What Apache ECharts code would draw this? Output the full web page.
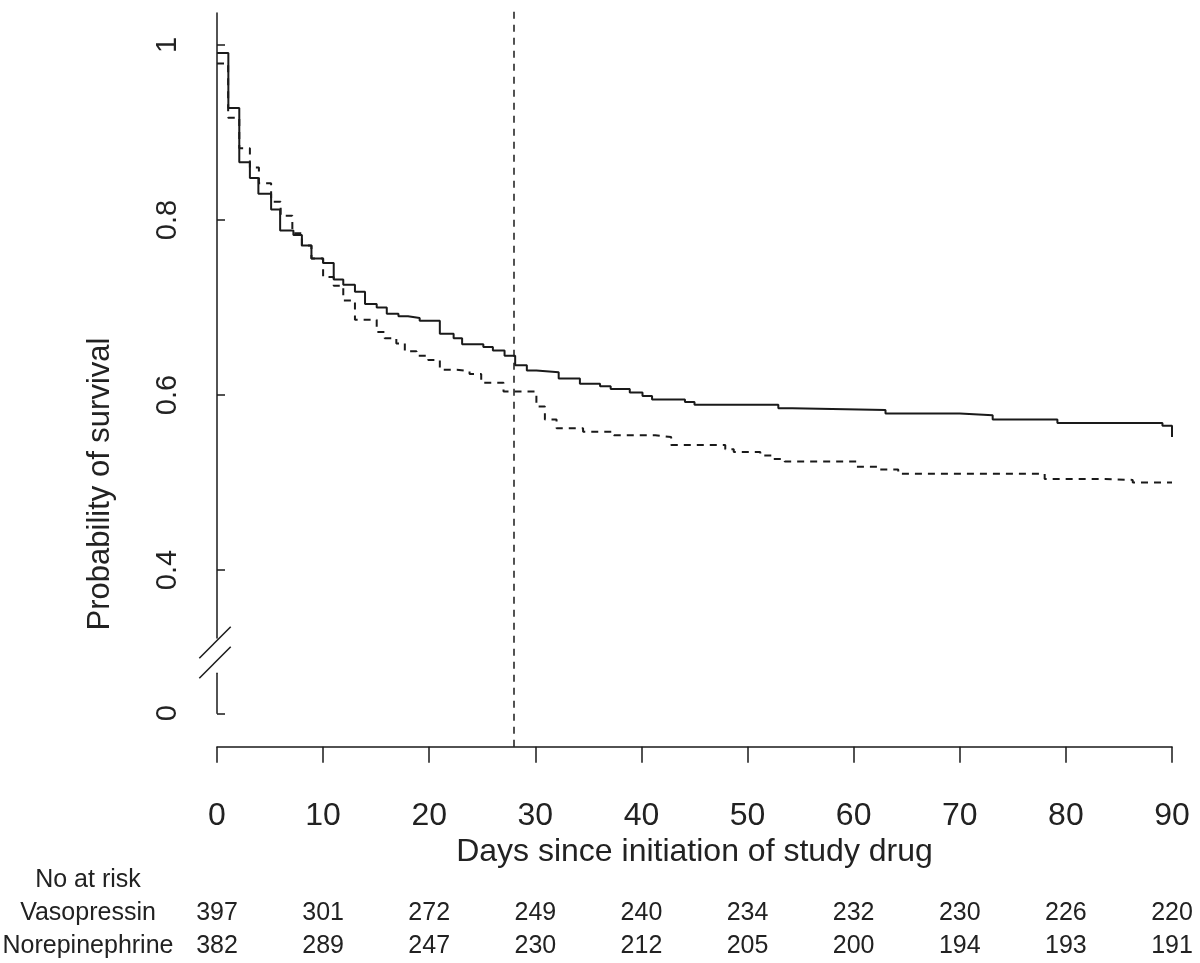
<!DOCTYPE html>
<html>
<head>
<meta charset="utf-8">
<script src="https://cdn.jsdelivr.net/npm/echarts@6/dist/echarts.min.js"></script>
<style>
html,body{margin:0;padding:0;background:#fff;}
#chart{width:1200px;height:963px;}
</style>
</head>
<body>
<div id="chart"></div>
<script>
// ---- data ----
const dayTicks = [0, 10, 20, 30, 40, 50, 60, 70, 80, 90];
const atRiskVaso = [397, 301, 272, 249, 240, 234, 232, 230, 226, 220];
const atRiskNore = [382, 289, 247, 230, 212, 205, 200, 194, 193, 191];
const yTickValues = [0.4, 0.6, 0.8, 1];
const yLowTickValues = [0];
const refDay = 28;

const vasoT = [0,1.07,2.1,3.1,3.9,5.1,5.95,7.2,8.0,8.9,10.0,11.0,11.9,13.0,13.95,15.05,16.0,17.1,18.0,19.1,21.0,22.3,23.1,25.1,26.0,27.1,28.1,29.2,30.1,32.2,34.2,36.1,37.1,38.9,40.1,41.0,44.1,45.0,52.9,54.2,63.0,70.0,73.1,79.2,89.1,90];
const vasoS = [0.991,0.928,0.866,0.848,0.830,0.812,0.788,0.783,0.771,0.756,0.751,0.732,0.726,0.718,0.704,0.700,0.693,0.690,0.688,0.685,0.670,0.665,0.658,0.655,0.651,0.645,0.634,0.628,0.626,0.619,0.613,0.610,0.607,0.603,0.599,0.595,0.592,0.589,0.585,0.583,0.579,0.577,0.572,0.568,0.565,0.552];

const noreT = [0,1.05,2.1,3.1,3.95,5.1,6.0,7.1,8.0,8.9,10.0,11.0,11.9,13.0,15.05,15.8,16.9,17.7,18.8,19.9,21.0,22.6,23.8,24.9,27.0,30.1,30.9,32.0,34.5,37.4,41.3,42.8,47.9,48.7,51.2,52.4,53.5,60.3,62.2,64.2,78.0,83.7,86.3,90];
const noreS = [0.979,0.917,0.882,0.860,0.842,0.821,0.805,0.785,0.771,0.756,0.735,0.725,0.708,0.686,0.672,0.665,0.659,0.650,0.645,0.640,0.629,0.627,0.624,0.614,0.604,0.587,0.572,0.562,0.558,0.554,0.552,0.543,0.538,0.535,0.531,0.527,0.524,0.518,0.515,0.510,0.504,0.503,0.500,0.500];

// ---- layout constants ----
const FONT = "'Liberation Sans', Arial, sans-serif";
const INK = '#1a1a1a';
const TXT = '#222';
const yUpperMin = 0.3223, yUpperMax = 1.0366;
const yLowerMin = 0, yLowerMax = 0.0457;

const chart = echarts.init(document.getElementById('chart'), null, {renderer: 'canvas'});

const zip = (a, b) => a.map((v, i) => [v, b[i]]);

const option = {
  animation: false,
  backgroundColor: '#fff',
  grid: [
    {left: 217, right: 28, top: 13, height: 625},
    {left: 217, right: 28, top: 673.3, height: 40},
    {left: 217, right: 28, top: 10, height: 736.7}
  ],
  xAxis: [
    {gridIndex: 0, type: 'value', min: 0, max: 90, show: false},
    {gridIndex: 1, type: 'value', min: 0, max: 90, interval: 10, position: 'bottom', offset: 33.4,
      axisLine: {show: true, onZero: false, lineStyle: {color: INK, width: 1.5}},
      axisTick: {show: true, length: 16, lineStyle: {color: INK, width: 1.5}},
      splitLine: {show: false},
      axisLabel: {show: true, margin: 53, fontSize: 32, lineHeight: 32, color: TXT, fontFamily: FONT,
        formatter: v => String(dayTicks[Math.round(v / 10)])},
      name: 'Days since initiation of study drug', nameLocation: 'middle', nameGap: 89,
      nameTextStyle: {fontSize: 32, lineHeight: 32, color: TXT, fontFamily: FONT}
    },
    {gridIndex: 1, type: 'value', min: 0, max: 90, interval: 10, position: 'bottom', offset: 0,
      axisLine: {show: false, onZero: false}, axisTick: {show: false}, splitLine: {show: false},
      axisLabel: {show: true, margin: 187, fontSize: 25, lineHeight: 25, color: TXT, fontFamily: FONT,
        formatter: v => String(atRiskVaso[Math.round(v / 10)])}
    },
    {gridIndex: 1, type: 'value', min: 0, max: 90, interval: 10, position: 'bottom', offset: 0,
      axisLine: {show: false, onZero: false}, axisTick: {show: false}, splitLine: {show: false},
      axisLabel: {show: true, margin: 220, fontSize: 25, lineHeight: 25, color: TXT, fontFamily: FONT,
        formatter: v => String(atRiskNore[Math.round(v / 10)])}
    },
    {gridIndex: 2, type: 'value', min: 0, max: 90, show: false}
  ],
  yAxis: [
    {gridIndex: 0, type: 'value', min: yUpperMin, max: yUpperMax,
      axisLine: {show: true, onZero: false, lineStyle: {color: INK, width: 1.5}},
      axisTick: {show: true, inside: true, length: 8, customValues: yTickValues, lineStyle: {color: INK, width: 1.5}},
      splitLine: {show: false},
      axisLabel: {show: true, rotate: 90, margin: 35, fontSize: 29, lineHeight: 29, color: TXT, fontFamily: FONT,
        customValues: yTickValues, formatter: v => String(+v.toFixed(1))}
    },
    {gridIndex: 1, type: 'value', min: yLowerMin, max: yLowerMax,
      axisLine: {show: true, onZero: false, lineStyle: {color: INK, width: 1.5}},
      axisTick: {show: true, inside: true, length: 8, customValues: yLowTickValues, lineStyle: {color: INK, width: 1.5}},
      splitLine: {show: false},
      axisLabel: {show: true, rotate: 90, margin: 35, fontSize: 29, lineHeight: 29, color: TXT, fontFamily: FONT,
        customValues: yLowTickValues, formatter: v => String(+v.toFixed(1))}
    },
    {gridIndex: 2, type: 'value', min: 0, max: 1, show: false}
  ],
  series: [
    {name: 'Vasopressin', type: 'line', xAxisIndex: 0, yAxisIndex: 0, step: 'end', symbol: 'none',
      lineStyle: {color: INK, width: 2}, data: zip(vasoT, vasoS), z: 3},
    {name: 'Norepinephrine', type: 'line', xAxisIndex: 0, yAxisIndex: 0, step: 'end', symbol: 'none',
      lineStyle: {color: INK, width: 2, type: [7, 6]}, data: zip(noreT, noreS), z: 2},
    {name: 'ref', type: 'line', xAxisIndex: 4, yAxisIndex: 2, data: [], symbol: 'none',
      markLine: {silent: true, symbol: ['none', 'none'], label: {show: false},
        lineStyle: {color: INK, width: 1.5, type: [7, 6]},
        data: [{xAxis: refDay}]}}
  ]
};
chart.setOption(option);

// axis break marks and side labels
const p = chart.convertToPixel({gridIndex: 0}, [0, yUpperMin]);
const slash = (dy) => ({
  type: 'line', silent: true,
  shape: {x1: p[0] - 17.7, y1: p[1] + 20.3 + dy, x2: p[0] + 13.7, y2: p[1] - 11.3 + dy},
  style: {stroke: INK, lineWidth: 1.5}
});
const sideText = (t, y) => ({
  type: 'text', silent: true, x: 88, y: y,
  style: {text: t, font: '25px ' + FONT, fill: TXT, align: 'center', verticalAlign: 'middle'}
});
chart.setOption({
  graphic: [
    slash(0), slash(20),
    {type: 'text', silent: true, x: 100, y: 484, rotation: Math.PI / 2,
      style: {text: 'Probability of survival', font: '31px ' + FONT, fill: TXT, align: 'center', verticalAlign: 'middle'}},
    sideText('No at risk', 880),
    sideText('Vasopressin', 913),
    sideText('Norepinephrine', 946)
  ]
});
</script>
</body>
</html>
